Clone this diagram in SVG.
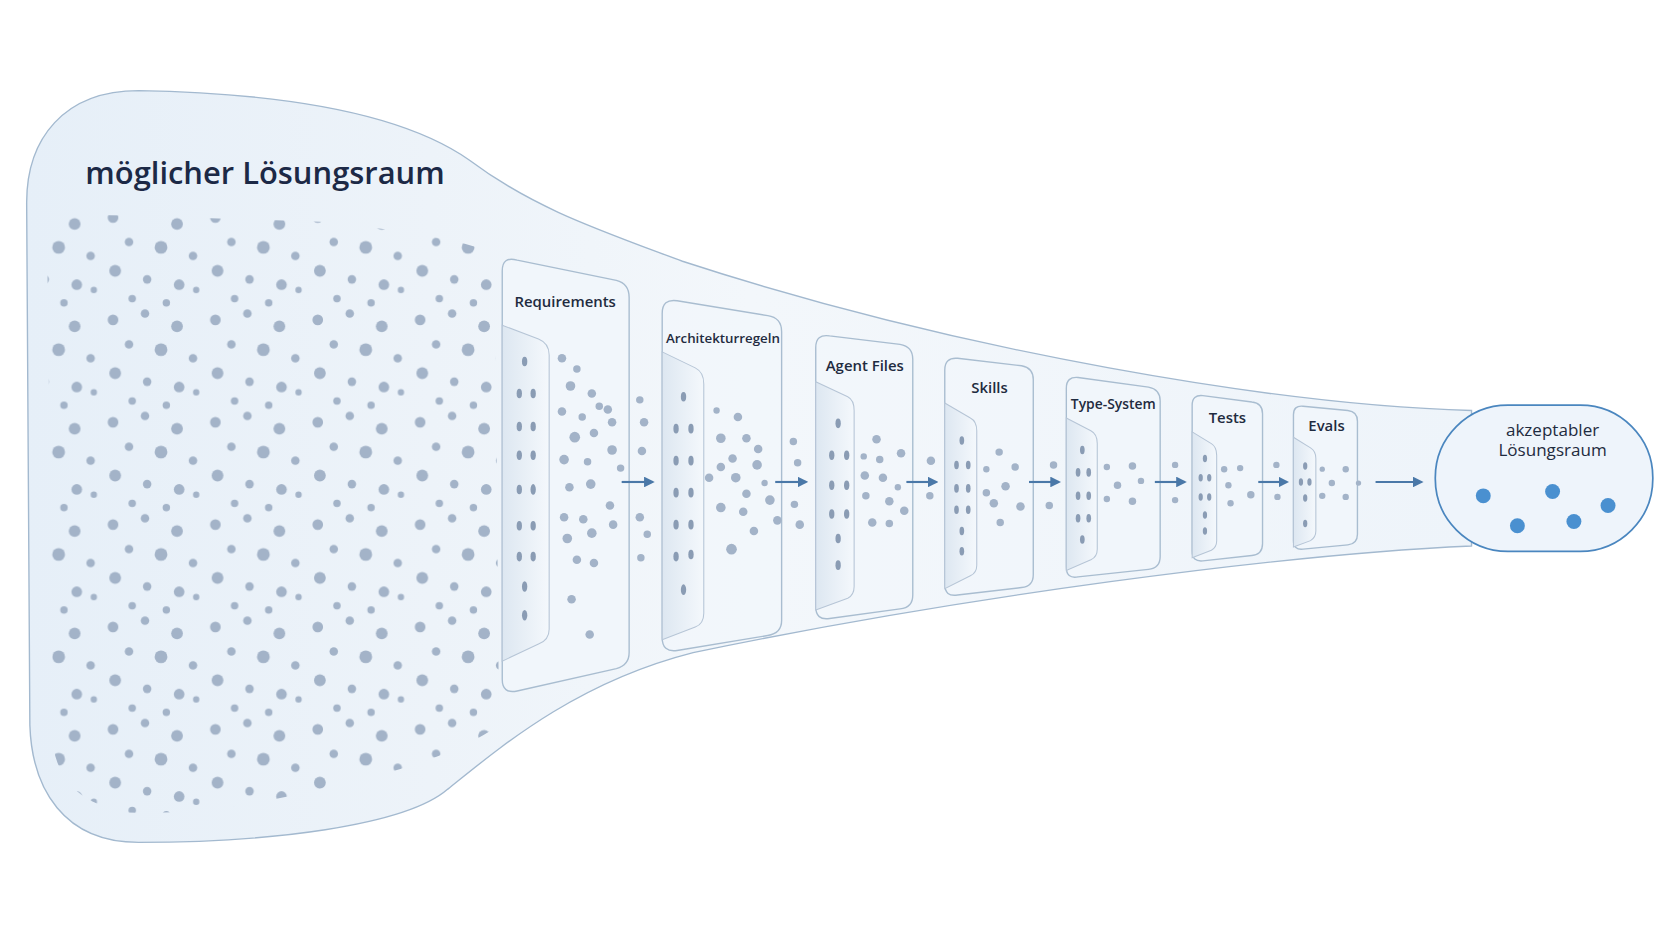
<svg xmlns="http://www.w3.org/2000/svg" width="1672" height="941" viewBox="0 0 1672 941">
<style>
.lbl{font-family:"Open Sans","Liberation Sans",sans-serif;fill:#1f2b40;text-anchor:middle;font-weight:600}
.panel{fill:#f1f6fb;fill-opacity:0.8;stroke:#a9bdd0;stroke-width:1.3}
.inner{fill:url(#ig);stroke:#b6c5d6;stroke-width:1}
.d{fill:#a3b3c8}
.e{fill:#8a9cb4}
.arr{stroke:#4a78a8;stroke-width:2;fill:none;marker-end:url(#ah)}
</style>
<defs>
<linearGradient id="fg" x1="0" y1="0" x2="1" y2="0">
<stop offset="0" stop-color="#e6eff8"/><stop offset="0.28" stop-color="#edf3f9"/><stop offset="0.5" stop-color="#f3f7fb"/><stop offset="1" stop-color="#eef4fa"/>
</linearGradient>
<linearGradient id="ig" x1="0" y1="0" x2="1" y2="0">
<stop offset="0" stop-color="#dde7f1"/><stop offset="1" stop-color="#f4f8fc"/>
</linearGradient>
<pattern id="dots" width="96" height="96" patternUnits="userSpaceOnUse">
<circle cx="10" cy="12" r="5" class="d"/><circle cx="40" cy="6" r="4" class="d"/><circle cx="70" cy="18" r="5.5" class="d"/>
<circle cx="25" cy="35" r="4" class="d"/><circle cx="55" cy="40" r="6" class="d"/><circle cx="85" cy="48" r="4" class="d"/>
<circle cx="12" cy="62" r="5.5" class="d"/><circle cx="42" cy="70" r="4" class="d"/><circle cx="72" cy="75" r="5" class="d"/>
<circle cx="28" cy="88" r="3.5" class="d"/><circle cx="60" cy="92" r="3.5" class="d"/><circle cx="88" cy="80" r="3" class="d"/>
</pattern>
<marker id="ah" markerWidth="10" markerHeight="10" refX="8" refY="5" orient="auto" markerUnits="userSpaceOnUse">
<path d="M0,0 L10,5 L0,10 Z" fill="#4a78a8"/>
</marker>
</defs>
<rect width="1672" height="941" fill="#ffffff"/>
<g transform="scale(1.06633)">
<g id="funnel">
<path d="M130,85 C300,88 390,115 440,150 C500,195 560,215 640,245 C900,330 1200,380 1380,385 L1380,512 C1200,520 900,560 650,612 C540,640 470,700 420,740 C380,775 250,790 130,790 C60,790 30,740 28,680 L25,190 C25,130 60,85 130,85 Z" fill="url(#fg)" stroke="#a3b9cf" stroke-width="1.3"/>
<path d="M44,214 Q46,200 120,202 L300,208 Q440,222 464,240 L468,680 Q420,715 300,740 Q200,765 120,762 Q58,752 50,700 Z" fill="url(#dots)"/>
<text x="80" y="173" class="lbl" style="text-anchor:start;font-size:29px;fill:#1c2946">möglicher Lösungsraum</text>
</g>
<g id="n1">
<path class="panel" d="M471,254 Q471,240 485,244 L578,263 Q590,266 590,279 L590,612 Q590,624 578,627 L485,648 Q471,651 471,637 Z"/>
<path class="inner" d="M471,305 L505,318 Q515,322 515,333 L515,590 Q515,600 505,604 L471,620 Z"/>
<text x="530" y="288" class="lbl" font-size="14">Requirements</text>
<g class="e"><ellipse cx="492" cy="339" rx="2.5" ry="4.5"/><ellipse cx="487" cy="369" rx="2.5" ry="4.5"/><ellipse cx="500" cy="369" rx="2.5" ry="4.5"/><ellipse cx="487" cy="400" rx="2.5" ry="4.5"/><ellipse cx="500" cy="400" rx="2.5" ry="4.5"/><ellipse cx="487" cy="427" rx="2.5" ry="4.5"/><ellipse cx="500" cy="427" rx="2.5" ry="4.5"/><ellipse cx="487" cy="459" rx="2.5" ry="4.5"/><ellipse cx="500" cy="459" rx="2.5" ry="5"/><ellipse cx="487" cy="493" rx="2.5" ry="4.5"/><ellipse cx="500" cy="493" rx="2.5" ry="4.5"/><ellipse cx="487" cy="522" rx="2.5" ry="4.5"/><ellipse cx="500" cy="522" rx="2.5" ry="4.5"/><ellipse cx="492" cy="550" rx="2.5" ry="5"/><ellipse cx="492" cy="577" rx="2.5" ry="5"/></g>
<g class="d"><circle cx="527" cy="336" r="4"/><circle cx="541" cy="346" r="3.5"/><circle cx="535" cy="362" r="4.5"/><circle cx="555" cy="369" r="4"/><circle cx="562" cy="381" r="3.5"/><circle cx="527" cy="386" r="4"/><circle cx="546" cy="391" r="3.5"/><circle cx="570" cy="384" r="4"/><circle cx="539" cy="410" r="5"/><circle cx="557" cy="406" r="4"/><circle cx="574" cy="396" r="4"/><circle cx="529" cy="431" r="4.5"/><circle cx="551" cy="433" r="3.5"/><circle cx="574" cy="422" r="4.5"/><circle cx="534" cy="457" r="4"/><circle cx="554" cy="454" r="4.5"/><circle cx="582" cy="439" r="3.5"/><circle cx="529" cy="485" r="4"/><circle cx="547" cy="487" r="4"/><circle cx="572" cy="474" r="4"/><circle cx="532" cy="505" r="4.5"/><circle cx="555" cy="500" r="4.5"/><circle cx="575" cy="492" r="4"/><circle cx="541" cy="525" r="4"/><circle cx="557" cy="528" r="4"/><circle cx="536" cy="562" r="4"/><circle cx="553" cy="595" r="4"/><circle cx="600" cy="375" r="3.5"/><circle cx="604" cy="396" r="4"/><circle cx="602" cy="423" r="4"/><circle cx="600" cy="485" r="4"/><circle cx="607" cy="501" r="3.5"/><circle cx="601" cy="523" r="3.5"/></g>
</g>
<g id="n2">
<path class="panel" d="M621,294 Q621,280 635,282 L720,296 Q733,298 733,311 L733,582 Q733,594 720,596 L635,610 Q621,612 621,598 Z"/>
<path class="inner" d="M621,330 L652,345 Q660,349 660,360 L660,575 Q660,585 652,588 L621,600 Z"/>
<text x="678" y="322" class="lbl" font-size="12.5">Architekturregeln</text>
<g class="e"><ellipse cx="641" cy="372" rx="2.5" ry="4.5"/><ellipse cx="634" cy="402" rx="2.5" ry="4.5"/><ellipse cx="648" cy="402" rx="2.5" ry="4.5"/><ellipse cx="634" cy="432" rx="2.5" ry="4.5"/><ellipse cx="648" cy="432" rx="2.5" ry="4.5"/><ellipse cx="634" cy="462" rx="2.5" ry="4.5"/><ellipse cx="648" cy="462" rx="2.5" ry="4.5"/><ellipse cx="634" cy="492" rx="2.5" ry="4.5"/><ellipse cx="648" cy="492" rx="2.5" ry="4.5"/><ellipse cx="634" cy="522" rx="2.5" ry="4.5"/><ellipse cx="648" cy="520" rx="2.5" ry="4.5"/><ellipse cx="641" cy="553" rx="2.5" ry="5"/></g>
<g class="d"><circle cx="672" cy="385" r="3"/><circle cx="692" cy="391" r="4"/><circle cx="676" cy="411" r="4.5"/><circle cx="700" cy="411" r="4"/><circle cx="711" cy="421" r="4"/><circle cx="687" cy="430" r="4"/><circle cx="710" cy="436" r="4.5"/><circle cx="676" cy="438" r="4"/><circle cx="665" cy="448" r="4"/><circle cx="690" cy="448" r="4.5"/><circle cx="717" cy="453" r="3"/><circle cx="700" cy="463" r="4"/><circle cx="676" cy="476" r="4.5"/><circle cx="697" cy="480" r="4"/><circle cx="722" cy="469" r="4.5"/><circle cx="707" cy="498" r="4"/><circle cx="686" cy="515" r="5"/><circle cx="729" cy="488" r="4"/><circle cx="744" cy="414" r="3.5"/><circle cx="748" cy="434" r="3.5"/><circle cx="745" cy="473" r="3.5"/><circle cx="750" cy="492" r="4"/></g>
</g>
<g id="n3">
<path class="panel" d="M765,326 Q765,313 778,315 L844,323 Q856,325 856,337 L856,558 Q856,570 844,571 L778,580 Q765,582 765,569 Z"/>
<path class="inner" d="M765,358 L795,372 Q801,375 801,385 L801,550 Q801,558 795,561 L765,572 Z"/>
<text x="811" y="348" class="lbl" font-size="14">Agent Files</text>
<g class="e"><ellipse cx="786" cy="397" rx="2.5" ry="4.5"/><ellipse cx="780" cy="427" rx="2.5" ry="4.5"/><ellipse cx="794" cy="427" rx="2.5" ry="4.5"/><ellipse cx="780" cy="455" rx="2.5" ry="4.5"/><ellipse cx="794" cy="455" rx="2.5" ry="4.5"/><ellipse cx="780" cy="482" rx="2.5" ry="4.5"/><ellipse cx="794" cy="482" rx="2.5" ry="4.5"/><ellipse cx="786" cy="505" rx="2.5" ry="4.5"/><ellipse cx="786" cy="530" rx="2.5" ry="4.5"/></g>
<g class="d"><circle cx="822" cy="412" r="4"/><circle cx="810" cy="428" r="3"/><circle cx="825" cy="431" r="3.5"/><circle cx="845" cy="425" r="4"/><circle cx="811" cy="446" r="4"/><circle cx="828" cy="448" r="4"/><circle cx="842" cy="457" r="3"/><circle cx="812" cy="465" r="3.5"/><circle cx="834" cy="470" r="4"/><circle cx="848" cy="479" r="4"/><circle cx="818" cy="490" r="4"/><circle cx="834" cy="491" r="3.5"/><circle cx="873" cy="432" r="4"/><circle cx="872" cy="465" r="3.5"/></g>
</g>
<g id="n4">
<path class="panel" d="M886,347 Q886,335 898,336 L958,343 Q969,345 969,356 L969,539 Q969,550 958,551 L898,558 Q886,560 886,548 Z"/>
<path class="inner" d="M886,378 L910,392 Q916,395 916,404 L916,530 Q916,537 910,540 L886,552 Z"/>
<text x="928" y="369" class="lbl" font-size="14">Skills</text>
<g class="e"><ellipse cx="902" cy="413" rx="2.2" ry="4"/><ellipse cx="897" cy="436" rx="2.2" ry="4"/><ellipse cx="908" cy="436" rx="2.2" ry="4"/><ellipse cx="897" cy="458" rx="2.2" ry="4"/><ellipse cx="908" cy="458" rx="2.2" ry="4"/><ellipse cx="897" cy="478" rx="2.2" ry="4"/><ellipse cx="908" cy="478" rx="2.2" ry="4"/><ellipse cx="902" cy="498" rx="2.2" ry="4"/><ellipse cx="902" cy="517" rx="2.2" ry="4"/></g>
<g class="d"><circle cx="937" cy="424" r="3.5"/><circle cx="925" cy="440" r="3"/><circle cx="952" cy="438" r="3.5"/><circle cx="943" cy="456" r="4"/><circle cx="925" cy="462" r="3.5"/><circle cx="932" cy="472" r="4"/><circle cx="957" cy="475" r="4"/><circle cx="938" cy="490" r="3.5"/><circle cx="988" cy="436" r="3.5"/><circle cx="984" cy="474" r="3.5"/></g>
</g>
<g id="n5">
<path class="panel" d="M1000,364 Q1000,353 1011,354 L1077,363 Q1088,365 1088,376 L1088,522 Q1088,533 1077,534 L1011,541 Q1000,543 1000,532 Z"/>
<path class="inner" d="M1000,392 L1023,404 Q1029,407 1029,416 L1029,515 Q1029,522 1023,525 L1000,535 Z"/>
<text x="1044" y="384" class="lbl" font-size="13">Type-System</text>
<g class="e"><ellipse cx="1015" cy="422" rx="2.2" ry="4"/><ellipse cx="1011" cy="443" rx="2.2" ry="4"/><ellipse cx="1021" cy="443" rx="2.2" ry="4"/><ellipse cx="1011" cy="465" rx="2.2" ry="4"/><ellipse cx="1021" cy="465" rx="2.2" ry="4"/><ellipse cx="1011" cy="486" rx="2.2" ry="4"/><ellipse cx="1021" cy="486" rx="2.2" ry="4"/><ellipse cx="1015" cy="506" rx="2.2" ry="4"/></g>
<g class="d"><circle cx="1038" cy="438" r="3"/><circle cx="1062" cy="437" r="3.5"/><circle cx="1048" cy="455" r="3.5"/><circle cx="1070" cy="451" r="3"/><circle cx="1038" cy="468" r="3"/><circle cx="1062" cy="470" r="3.5"/><circle cx="1102" cy="436" r="3"/><circle cx="1102" cy="469" r="3"/></g>
</g>
<g id="n6">
<path class="panel" d="M1118,380 Q1118,370 1128,371 L1174,377 Q1184,378 1184,388 L1184,510 Q1184,520 1174,521 L1128,526 Q1118,527 1118,517 Z"/>
<path class="inner" d="M1118,405 L1136,416 Q1141,419 1141,427 L1141,507 Q1141,513 1136,516 L1118,523 Z"/>
<text x="1151" y="397" class="lbl" font-size="14">Tests</text>
<g class="e"><ellipse cx="1130" cy="430" rx="2" ry="3.5"/><ellipse cx="1126" cy="448" rx="2" ry="3.5"/><ellipse cx="1134" cy="448" rx="2" ry="3.5"/><ellipse cx="1126" cy="466" rx="2" ry="3.5"/><ellipse cx="1134" cy="466" rx="2" ry="3.5"/><ellipse cx="1130" cy="483" rx="2" ry="3.5"/><ellipse cx="1130" cy="498" rx="2" ry="3.5"/></g>
<g class="d"><circle cx="1148" cy="440" r="3"/><circle cx="1163" cy="439" r="3"/><circle cx="1152" cy="455" r="3"/><circle cx="1173" cy="464" r="3.5"/><circle cx="1154" cy="472" r="3"/><circle cx="1197" cy="436" r="3"/><circle cx="1198" cy="466" r="3"/></g>
</g>
<g id="n7">
<path class="panel" d="M1213,389 Q1213,380 1222,381 L1264,385 Q1273,386 1273,395 L1273,501 Q1273,510 1264,511 L1222,515 Q1213,516 1213,507 Z"/>
<path class="inner" d="M1213,410 L1229,420 Q1234,423 1234,430 L1234,498 Q1234,504 1229,507 L1213,513 Z"/>
<text x="1244" y="404" class="lbl" font-size="14">Evals</text>
<g class="e"><ellipse cx="1224" cy="437" rx="2" ry="3.5"/><ellipse cx="1220" cy="452" rx="2" ry="3.5"/><ellipse cx="1228" cy="452" rx="2" ry="3.5"/><ellipse cx="1224" cy="467" rx="2" ry="3.5"/><ellipse cx="1224" cy="491" rx="2" ry="3.5"/></g>
<g class="d"><circle cx="1240" cy="440" r="2.5"/><circle cx="1262" cy="440" r="3"/><circle cx="1249" cy="453" r="3"/><circle cx="1240" cy="465" r="3"/><circle cx="1262" cy="466" r="3"/><circle cx="1274" cy="453" r="2.5"/></g>
</g>
<g id="n8">
<rect x="1346" y="380" width="204" height="137" rx="68" ry="68" fill="#eef4fb" stroke="#4a86bf" stroke-width="1.6"/>
<text x="1456" y="409" class="lbl" font-size="16" style="font-weight:500">akzeptabler</text>
<text x="1456" y="428" class="lbl" font-size="16" style="font-weight:500">Lösungsraum</text>
<g fill="#4a90d0"><circle cx="1391" cy="465" r="7"/><circle cx="1456" cy="461" r="7"/><circle cx="1508" cy="474" r="7"/><circle cx="1423" cy="493" r="7"/><circle cx="1476" cy="489" r="7"/></g>
</g>
<g id="connectors">
<line class="arr" x1="583" y1="452" x2="612" y2="452"/>
<line class="arr" x1="727" y1="452" x2="756" y2="452"/>
<line class="arr" x1="850" y1="452" x2="878" y2="452"/>
<line class="arr" x1="965" y1="452" x2="993" y2="452"/>
<line class="arr" x1="1083" y1="452" x2="1111" y2="452"/>
<line class="arr" x1="1180" y1="452" x2="1207" y2="452"/>
<line class="arr" x1="1290" y1="452" x2="1333" y2="452"/>
</g>
</g>
</svg>
